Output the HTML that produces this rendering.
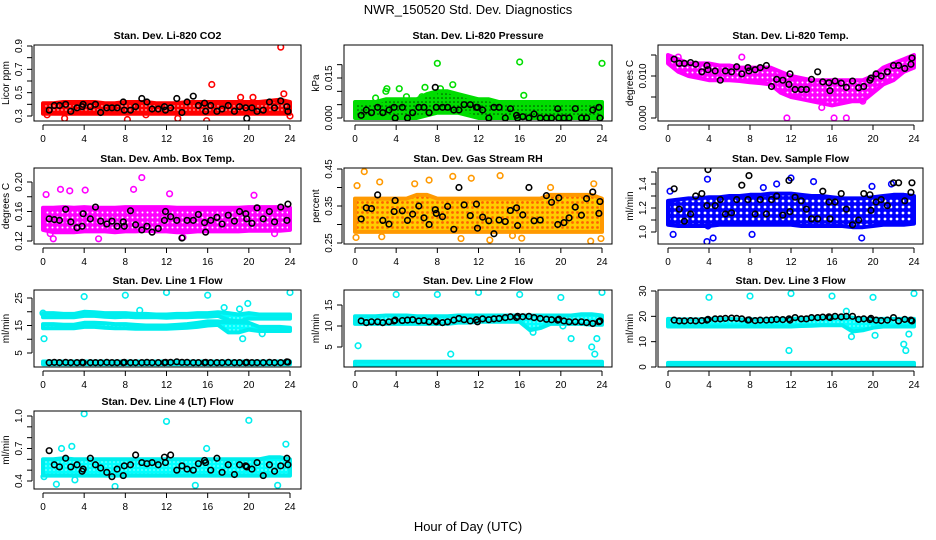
<!DOCTYPE html>
<html><head><meta charset="utf-8"><title>NWR_150520 Std. Dev. Diagnostics</title>
<style>
body{margin:0;background:#fff;}
svg{display:block;font-family:"Liberation Sans",sans-serif;}
</style></head>
<body>
<svg id="chart" width="936" height="540" viewBox="0 0 936 540">
<defs>
<pattern id="pat-red" width="4" height="4" patternUnits="userSpaceOnUse"><rect width="4" height="4" fill="#ff0000"/><circle cx="2" cy="2" r="0.7" fill="#ffffff"/></pattern>
<pattern id="pat-green" width="4" height="4" patternUnits="userSpaceOnUse"><rect width="4" height="4" fill="#00dd00"/><circle cx="2" cy="2" r="0.8" fill="#004400"/></pattern>
<pattern id="pat-magenta" width="5" height="5" patternUnits="userSpaceOnUse"><rect width="5" height="5" fill="#ff00ff"/><circle cx="2.5" cy="2.5" r="1" fill="#ffffff"/></pattern>
<pattern id="pat-orange" width="5" height="5" patternUnits="userSpaceOnUse"><rect width="5" height="5" fill="#ffcc00"/><circle cx="2.5" cy="2.5" r="1.4" fill="#ff6600"/></pattern>
<pattern id="pat-blue" width="6" height="6" patternUnits="userSpaceOnUse"><rect width="6" height="6" fill="#0000ff"/><circle cx="3" cy="3" r="1.4" fill="#ffffff"/></pattern>
<pattern id="pat-cyan" width="4" height="4" patternUnits="userSpaceOnUse"><rect width="4" height="4" fill="#00ffff"/><circle cx="2" cy="2" r="0.6" fill="#ffffff"/></pattern>
</defs>
<text x="468" y="14" text-anchor="middle" font-size="13">NWR_150520  Std. Dev. Diagnostics</text>
<text x="468" y="531" text-anchor="middle" font-size="13">Hour of Day (UTC)</text>
</svg>
<script>
// ---- shared data ----
const HOURS = [0,1,2,3,4,5,6,7,8,9,10,11,12,13,14,15,16,17,18,19,20,21,22,23,24];
const blackTimes = [0.6,1.1,1.6,2.2,2.7,3.3,3.8,3.9,4.6,5.1,5.6,6.2,6.7,7.2,7.8,7.9,8.5,9.0,9.6,10.1,10.6,11.2,11.8,11.9,12.4,13.0,13.5,14.0,14.6,15.1,15.7,15.8,16.3,16.9,17.4,18.0,18.6,19.1,19.7,19.8,20.3,20.8,21.4,22.0,22.5,23.1,23.7,23.8];
const xTickLabels = ["0","4","8","12","16","20","24"];
const xTickValues = [0,4,8,12,16,20,24];

// CO2
const co2Lo = [0.32,0.32,0.32,0.32,0.32,0.32,0.32,0.32,0.32,0.32,0.32,0.32,0.32,0.32,0.32,0.32,0.32,0.32,0.32,0.32,0.32,0.32,0.32,0.32,0.32];
const co2Hi = [0.41,0.41,0.42,0.42,0.42,0.42,0.41,0.41,0.42,0.42,0.42,0.41,0.41,0.41,0.42,0.42,0.42,0.42,0.42,0.42,0.42,0.42,0.43,0.44,0.42];
const co2Black = [0.35,0.39,0.39,0.40,0.34,0.37,0.38,0.40,0.38,0.40,0.33,0.37,0.37,0.37,0.42,0.35,0.35,0.38,0.45,0.42,0.36,0.36,0.38,0.35,0.37,0.45,0.33,0.42,0.47,0.39,0.41,0.34,0.39,0.34,0.36,0.39,0.34,0.38,0.37,0.28,0.37,0.34,0.35,0.42,0.37,0.43,0.38,0.34];
const co2OutT = [23.1,16.4,15.9,2.1,13.1,23.4,8.2,0.4,10.0,19.2,20.4,24.0];
const co2OutV = [0.89,0.57,0.26,0.28,0.28,0.49,0.27,0.31,0.31,0.46,0.46,0.30];

// Pressure
const presLo = [0.000,0.000,0.000,0.000,0.000,0.000,0.000,0.001,0.002,0.002,0.002,0.001,0.000,0.000,0.000,0.000,0.000,0.000,0.000,0.000,0.000,0.000,0.000,0.000,0.000];
const presHi = [0.006,0.006,0.006,0.007,0.007,0.007,0.007,0.009,0.010,0.010,0.009,0.008,0.007,0.007,0.006,0.006,0.006,0.006,0.006,0.006,0.006,0.006,0.006,0.006,0.006];
const presBlack = [0.001,0.003,0.002,0.004,0.002,0.003,0.004,0.000,0.004,0.000,0.002,0.004,0.004,0.002,0.0115,0.004,0.004,0.004,0.003,0.003,0.005,0.005,0.004,0.004,0.003,0.000,0.004,0.004,0.000,0.0035,0.001,0.000,0.0005,0.000,0.0015,0.000,0.000,0.000,0.0035,0.000,0.000,0.000,0.0035,0.000,0.000,0.003,0.004,0.000];
const presOutT = [8.0,16.0,24.0,6.8,9.5,4.3,3.1,16.4,7.9,3.0,8.3,5.0,6.5,2.0];
const presOutV = [0.0205,0.021,0.0205,0.0115,0.0125,0.011,0.011,0.0085,0.0095,0.010,0.011,0.008,0.008,0.0075];

// Li-820 temp
const tempLo = [0.013,0.011,0.010,0.0095,0.009,0.009,0.009,0.0088,0.0085,0.0083,0.008,0.006,0.005,0.0045,0.004,0.0035,0.003,0.0035,0.004,0.004,0.006,0.008,0.009,0.011,0.012];
const tempHi = [0.015,0.014,0.013,0.013,0.013,0.0125,0.0125,0.012,0.012,0.012,0.012,0.011,0.010,0.0095,0.009,0.009,0.009,0.009,0.009,0.009,0.010,0.012,0.013,0.014,0.015];
const tempBlack = [0.0140,0.0130,0.0130,0.0132,0.0128,0.0110,0.0125,0.0115,0.0112,0.0090,0.0112,0.0110,0.0122,0.0105,0.0120,0.0112,0.0115,0.0120,0.0125,0.0075,0.0092,0.0090,0.0080,0.0105,0.0068,0.0068,0.0068,0.0092,0.0110,0.0086,0.0084,0.0065,0.0088,0.0083,0.0073,0.0088,0.0072,0.0075,0.0090,0.0095,0.0105,0.0100,0.0110,0.0125,0.0125,0.0118,0.0128,0.0143];
const tempOutT = [11.6,16.2,17.4,1.0,7.2,15.0,19.0];
const tempOutV = [0.0,0.0,0.0,0.0145,0.0145,0.0025,0.004];

// Amb box temp
const ambLo = [0.135,0.132,0.132,0.132,0.133,0.133,0.133,0.132,0.133,0.133,0.134,0.133,0.133,0.132,0.132,0.133,0.133,0.133,0.133,0.133,0.134,0.134,0.134,0.134,0.135];
const ambHi = [0.165,0.165,0.166,0.165,0.166,0.165,0.165,0.165,0.166,0.166,0.166,0.166,0.166,0.165,0.165,0.165,0.165,0.165,0.165,0.165,0.166,0.166,0.166,0.166,0.165];
const ambBlack = [0.150,0.149,0.148,0.163,0.146,0.138,0.140,0.157,0.150,0.166,0.147,0.143,0.147,0.140,0.146,0.140,0.161,0.142,0.135,0.140,0.132,0.137,0.148,0.160,0.153,0.148,0.124,0.148,0.148,0.156,0.145,0.132,0.148,0.152,0.143,0.155,0.147,0.160,0.157,0.150,0.144,0.165,0.150,0.160,0.146,0.166,0.148,0.170];
const ambOutT = [1.7,2.6,4.1,9.6,23.0,8.8,1.0,5.4,0.7,22.5,13.6,0.3,12.3,20.5];
const ambOutV = [0.190,0.188,0.189,0.206,0.225,0.190,0.123,0.123,0.130,0.130,0.125,0.183,0.184,0.182];

// Gas stream RH
const rhLo = [0.28,0.28,0.28,0.28,0.28,0.28,0.28,0.28,0.28,0.28,0.28,0.28,0.28,0.28,0.28,0.28,0.28,0.28,0.28,0.28,0.28,0.28,0.28,0.28,0.28];
const rhHi = [0.37,0.37,0.37,0.37,0.37,0.37,0.38,0.38,0.37,0.37,0.37,0.37,0.37,0.37,0.37,0.37,0.37,0.37,0.37,0.38,0.38,0.38,0.38,0.38,0.37];
const rhBlack = [0.315,0.345,0.343,0.380,0.311,0.301,0.335,0.365,0.337,0.311,0.328,0.350,0.318,0.300,0.340,0.330,0.321,0.349,0.287,0.400,0.353,0.324,0.355,0.290,0.320,0.310,0.275,0.312,0.308,0.338,0.345,0.297,0.326,0.400,0.310,0.312,0.378,0.360,0.300,0.372,0.305,0.318,0.347,0.325,0.370,0.388,0.330,0.362];
const rhOutT = [0.9,9.5,14.1,11.3,0.2,2.4,23.2,7.2,0.1,13.1,22.9,2.6,10.3,15.3,16.2,23.9,5.8,19.0];
const rhOutV = [0.443,0.430,0.432,0.425,0.405,0.415,0.410,0.420,0.265,0.258,0.255,0.267,0.262,0.270,0.263,0.262,0.410,0.400];

// Sample flow
const sfLo = [1.06,1.05,1.05,1.05,1.05,1.06,1.06,1.06,1.06,1.06,1.06,1.06,1.06,1.05,1.05,1.05,1.05,1.05,1.04,1.04,1.05,1.06,1.06,1.06,1.07];
const sfHi = [1.26,1.27,1.28,1.28,1.29,1.29,1.30,1.30,1.31,1.31,1.32,1.32,1.32,1.31,1.30,1.30,1.29,1.28,1.28,1.28,1.29,1.30,1.31,1.31,1.30];
const sfBlack = [1.36,1.19,1.09,1.15,1.30,1.32,1.22,1.52,1.22,1.27,1.15,1.16,1.27,1.39,1.27,1.47,1.15,1.27,1.15,1.27,1.30,1.14,1.43,1.17,1.29,1.26,1.19,1.11,1.11,1.34,1.25,1.11,1.25,1.32,1.19,1.06,1.10,1.32,1.31,1.18,1.25,1.27,1.22,1.41,1.41,1.26,1.33,1.41];
const sfOutT = [3.8,18.9,0.5,8.2,12.0,14.2,0.2,21.8,19.9,4.4,3.85,3.9,9.3,10.6];
const sfOutV = [0.92,0.95,0.98,0.98,1.45,1.42,1.34,1.40,1.38,0.95,1.44,1.05,1.37,1.40];

// Line 1 flow
const l1ALo = [18.0,18.0,18.0,18.0,18.5,18.5,18.2,18.0,18.2,18.0,18.0,18.0,17.8,18.0,18.0,18.2,18.2,18.5,17.0,16.5,17.5,17.5,17.5,17.5,17.5];
const l1AHi = [19.5,19.5,19.2,19.2,20.0,19.8,19.5,19.5,19.5,19.2,19.2,19.0,19.0,19.2,19.2,19.5,19.5,19.8,19.5,19.0,19.5,19.0,19.0,19.0,19.0];
const l1BLo = [14.0,14.0,14.0,14.0,14.5,14.5,14.2,14.0,14.0,13.8,13.8,13.8,13.8,14.0,14.2,14.5,15.0,15.2,12.5,12.5,13.5,13.0,13.0,13.0,13.0];
const l1BHi = [15.5,15.5,15.3,15.3,16.0,16.0,15.8,15.5,15.5,15.2,15.0,15.0,15.0,15.2,15.5,16.0,16.5,16.5,16.2,16.2,16.0,14.5,14.5,14.5,14.2];
const l1CLo = [0.9,0.9,0.9,0.9,0.9,0.9,0.9,0.9,0.9,0.9,0.9,0.9,0.9,0.9,0.9,0.9,0.9,0.9,0.9,0.9,0.9,0.9,0.9,0.9,0.9];
const l1CHi = [1.9,1.9,1.9,1.9,1.9,1.9,1.9,1.9,1.9,1.9,1.9,1.9,1.9,1.9,1.9,1.9,1.9,1.9,1.9,1.9,1.9,1.9,1.9,1.9,1.9];
const l1Black = [1.5,1.6,1.5,1.6,1.5,1.5,1.6,1.5,1.5,1.5,1.5,1.6,1.5,1.5,1.5,1.6,1.5,1.5,1.5,1.6,1.5,1.5,1.5,1.6,1.6,1.8,1.6,1.6,1.5,1.5,1.5,1.6,1.5,1.5,1.5,1.6,1.5,1.5,1.5,1.6,1.5,1.5,1.5,1.6,1.5,1.5,1.8,1.7];
const l1OutT = [4.0,8.0,12.0,16.0,24.0,0.1,19.4,19.9,19.1,9.4,21.3,17.6,0.0];
const l1OutV = [25.5,26.0,27.0,26.0,27.0,10.2,10.2,23.0,21.0,20.5,12.0,21.5,19.5];

// Line 2 flow
const l2ALo = [10.5,10.5,10.5,10.5,10.5,10.5,10.5,10.5,10.5,10.5,10.8,10.8,11.0,11.0,11.0,11.0,11.0,9.0,9.5,10.5,10.5,10.5,10.5,10.3,10.3];
const l2AHi = [12.3,12.3,12.3,12.5,12.5,12.5,12.3,12.3,12.3,12.3,12.5,12.5,12.5,12.5,12.5,12.5,12.5,12.5,12.5,12.5,12.5,12.5,12.8,12.8,12.5];
const l2BLo = [0.3,0.3,0.3,0.3,0.3,0.3,0.3,0.3,0.3,0.3,0.3,0.3,0.3,0.3,0.3,0.3,0.3,0.3,0.3,0.3,0.3,0.3,0.3,0.3,0.3];
const l2BHi = [1.5,1.5,1.5,1.5,1.5,1.5,1.5,1.5,1.5,1.5,1.5,1.5,1.5,1.5,1.5,1.5,1.5,1.5,1.5,1.5,1.5,1.5,1.5,1.5,1.5];
const l2Black = [11.2,10.8,11.0,11.0,10.8,11.0,11.2,11.4,11.3,11.4,11.5,11.2,11.3,11.0,11.2,11.0,10.8,11.0,11.4,11.8,11.5,11.2,11.5,11.0,11.7,11.5,11.7,11.8,12.0,12.2,12.0,12.3,12.2,12.3,12.0,11.8,11.6,11.5,11.4,11.6,11.2,11.0,11.0,11.0,10.8,10.6,11.0,11.2];
const l2OutT = [4.0,8.0,12.0,16.0,24.0,20.0,0.3,9.3,23.3,23.0,21.0,23.5,17.3,20.2];
const l2OutV = [17.5,17.5,18.0,17.5,18.0,16.8,5.3,3.3,3.3,5.0,7.0,7.0,8.5,10.0];

// Line 3 flow
const l3ALo = [16.0,16.0,16.0,16.0,16.0,16.0,16.0,16.0,16.0,16.0,16.0,16.0,16.0,16.2,16.3,16.5,16.5,16.5,14.0,14.5,15.5,16.0,16.0,16.0,16.0];
const l3AHi = [19.0,18.8,18.8,18.8,19.0,19.0,19.0,18.8,18.8,18.8,19.0,19.0,19.0,19.2,19.5,19.5,19.8,19.8,19.5,19.0,19.0,19.0,19.0,19.0,19.0];
const l3BLo = [0.4,0.4,0.4,0.4,0.4,0.4,0.4,0.4,0.4,0.4,0.4,0.4,0.4,0.4,0.4,0.4,0.4,0.4,0.4,0.4,0.4,0.4,0.4,0.4,0.4];
const l3BHi = [1.6,1.6,1.6,1.6,1.6,1.6,1.6,1.6,1.6,1.6,1.6,1.6,1.6,1.6,1.6,1.6,1.6,1.6,1.6,1.6,1.6,1.6,1.6,1.6,1.6];
const l3Black = [18.5,18.2,18.2,18.3,18.2,18.3,18.5,18.8,19.0,19.0,19.2,19.3,19.2,19.0,18.5,18.6,18.3,18.5,18.5,18.6,18.8,18.7,19.0,18.5,19.5,19.0,19.0,19.5,19.5,19.7,19.8,19.5,20.0,19.8,20.0,20.0,18.8,19.0,18.7,19.2,18.5,18.3,18.5,19.5,18.2,18.8,18.5,18.2];
const l3OutT = [4.0,8.0,12.0,16.0,20.0,24.0,11.8,17.9,20.2,23.0,23.2,23.5,17.4];
const l3OutV = [27.5,28.0,29.0,28.0,27.5,29.0,6.5,12.0,12.5,9.0,6.5,13.0,22.0];

// Line 4 flow
const l4Lo = [0.45,0.45,0.45,0.45,0.45,0.45,0.45,0.45,0.45,0.45,0.45,0.45,0.45,0.45,0.45,0.45,0.45,0.45,0.45,0.45,0.45,0.45,0.45,0.45,0.45];
const l4Hi = [0.60,0.60,0.61,0.60,0.60,0.60,0.60,0.60,0.60,0.60,0.60,0.60,0.60,0.60,0.60,0.60,0.60,0.60,0.60,0.60,0.60,0.60,0.62,0.62,0.60];
const l4Black = [0.68,0.55,0.53,0.61,0.53,0.55,0.49,0.51,0.61,0.55,0.52,0.48,0.44,0.51,0.45,0.54,0.55,0.64,0.57,0.56,0.57,0.55,0.62,0.57,0.64,0.50,0.54,0.51,0.50,0.56,0.59,0.57,0.50,0.61,0.48,0.55,0.46,0.55,0.54,0.53,0.51,0.57,0.45,0.55,0.49,0.54,0.61,0.55];
const l4OutT = [4.0,12.0,20.0,2.8,23.6,1.8,7.0,14.8,22.8,1.3,3.1,0.1,15.9];
const l4OutV = [1.02,0.95,0.96,0.72,0.74,0.70,0.35,0.36,0.36,0.37,0.41,0.44,0.70];

// ---- y tick arrays ----
const co2Ticks=[0.3,0.4,0.5,0.6,0.7,0.8,0.9], co2Labels=["0.3","","0.5","","0.7","","0.9"];
const presTicks=[0,0.005,0.01,0.015,0.02], presLabels=["0.000","","","0.015",""];
const tempTicks=[0,0.005,0.01,0.015], tempLabels=["0.000","","0.010",""];
const ambTicks=[0.12,0.14,0.16,0.18,0.20], ambLabels=["0.12","","0.16","","0.20"];
const rhTicks=[0.25,0.30,0.35,0.40,0.45], rhLabels=["0.25","","0.35","","0.45"];
const sfTicks=[1.0,1.1,1.2,1.3,1.4,1.5], sfLabels=["1.0","","1.2","","1.4",""];
const l1Ticks=[5,10,15,20,25], l1Labels=["5","","15","","25"];
const l2Ticks=[5,10,15], l2Labels=["5","10","15"];
const l3Ticks=[0,10,20,30], l3Labels=["0","10","20","30"];
const l4Ticks=[0.4,0.5,0.6,0.7,0.8,0.9,1.0], l4Labels=["0.4","","","0.7","","","1.0"];

const NS="http://www.w3.org/2000/svg";
const svg=document.getElementById('chart');
function mk(tag,attrs,parent){const e=document.createElementNS(NS,tag);for(const k in attrs)e.setAttribute(k,attrs[k]);(parent||svg).appendChild(e);return e;}

const COLS=[{bx1:34,bx2:301,x0:43,x24:290},{bx1:344,bx2:612,x0:355,x24:602},{bx1:658,bx2:923,x0:668,x24:914}];
const ROWS=[{by1:45,by2:121},{by1:168,by2:244},{by1:290,by2:367},{by1:411,by2:489}];

function panel(o){
  const c=COLS[o.col], r=ROWS[o.row];
  const g=mk('g',{});
  
  
  const xs=t=>c.x0+(c.x24-c.x0)*t/24;
  const ys=v=>o.p1+(o.p2-o.p1)*(v-o.v1)/(o.v2-o.v1);
  const clipId='clip-'+o.name;
  const cp=mk('clipPath',{id:clipId},g);
  mk('rect',{x:c.bx1,y:r.by1,width:c.bx2-c.bx1,height:r.by2-r.by1},cp);
  const plot=mk('g',{'clip-path':'url(#'+clipId+')'},g);
  o.bands.forEach((b,bi)=>{
    let d='';
    HOURS.forEach((h,i)=>{d+=(i?'L':'M')+xs(h).toFixed(1)+','+ys(b[1][i]).toFixed(1);});
    for(let i=HOURS.length-1;i>=0;i--) d+='L'+xs(HOURS[i]).toFixed(1)+','+ys(b[0][i]).toFixed(1);
    d+='Z';
    const p=mk('path',{d:d,fill:'url(#'+o.pat+')',stroke:o.color,'stroke-width':4,'stroke-linejoin':'round'},plot);
    
    
  });
  o.outT.forEach((t,i)=>{
    const e=mk('circle',{cx:xs(t),cy:ys(o.outV[i]),r:2.8,fill:'none',stroke:o.color,'stroke-width':1.6},plot);
    
    
  });
  blackTimes.forEach((t,i)=>{
    const e=mk('circle',{cx:xs(t),cy:ys(o.black[i]),r:2.8,fill:'none',stroke:'#000','stroke-width':1.6},plot);
    
    
  });
  const bx=mk('rect',{x:c.bx1,y:r.by1,width:c.bx2-c.bx1,height:r.by2-r.by1,fill:'none',stroke:'#000','stroke-width':1},g);
  
  
  const ti=mk('text',{x:(c.bx1+c.bx2)/2,y:r.by1-6,'text-anchor':'middle','font-size':10.5,'font-weight':'bold'},g);
  ti.textContent=o.title;
  
  
  const xa=mk('g',{},g);
  
  
  mk('line',{x1:xs(0),x2:xs(24),y1:r.by2+4,y2:r.by2+4,stroke:'#000','stroke-width':1},xa);
  xTickValues.forEach((v,i)=>{
    mk('line',{x1:xs(v),x2:xs(v),y1:r.by2+4,y2:r.by2+9,stroke:'#000','stroke-width':1},xa);
    const tl=mk('text',{x:xs(v),y:r.by2+21,'text-anchor':'middle','font-size':10},xa);
    tl.textContent=xTickLabels[i];
  });
  const ya=mk('g',{},g);
  
  
  const yv=o.ticks;
  mk('line',{x1:c.bx1-2,x2:c.bx1-2,y1:ys(yv[0]),y2:ys(yv[yv.length-1]),stroke:'#000','stroke-width':1},ya);
  yv.forEach((v,i)=>{
    mk('line',{x1:c.bx1-7,x2:c.bx1-2,y1:ys(v),y2:ys(v),stroke:'#000','stroke-width':1},ya);
    if(o.labels[i]){
      const lx=c.bx1-12, ly=ys(v);
      const tl=mk('text',{x:lx,y:ly,'text-anchor':'middle','font-size':10,transform:'rotate(-90 '+lx+' '+ly+')'},ya);
      tl.textContent=o.labels[i];
    }
  });
  const yl=c.bx1-25, ym=(r.by1+r.by2)/2;
  const yt=mk('text',{x:yl,y:ym,'text-anchor':'middle','font-size':10,transform:'rotate(-90 '+yl+' '+ym+')'},g);
  yt.textContent=o.ylab;
  
  
}

panel({name:'panel-co2',col:0,row:0,title:'Stan. Dev. Li-820 CO2',ylab:'Licor ppm',v1:0.3,p1:116,v2:0.9,p2:46,ticks:co2Ticks,labels:co2Labels,color:'#ff0000',pat:'pat-red',bands:[[co2Lo,co2Hi]],outT:co2OutT,outV:co2OutV,black:co2Black});
panel({name:'panel-pressure',col:1,row:0,title:'Stan. Dev. Li-820 Pressure',ylab:'kPa',v1:0,p1:118,v2:0.015,p2:78,ticks:presTicks,labels:presLabels,color:'#00dd00',pat:'pat-green',bands:[[presLo,presHi]],outT:presOutT,outV:presOutV,black:presBlack});
panel({name:'panel-li820-temp',col:2,row:0,title:'Stan. Dev. Li-820 Temp.',ylab:'degrees C',v1:0,p1:118,v2:0.010,p2:76,ticks:tempTicks,labels:tempLabels,color:'#ff00ff',pat:'pat-magenta',bands:[[tempLo,tempHi]],outT:tempOutT,outV:tempOutV,black:tempBlack});
panel({name:'panel-amb-box-temp',col:0,row:1,title:'Stan. Dev. Amb. Box Temp.',ylab:'degrees C',v1:0.12,p1:241,v2:0.20,p2:182,ticks:ambTicks,labels:ambLabels,color:'#ff00ff',pat:'pat-magenta',bands:[[ambLo,ambHi]],outT:ambOutT,outV:ambOutV,black:ambBlack});
panel({name:'panel-gas-stream-rh',col:1,row:1,title:'Stan. Dev. Gas Stream RH',ylab:'percent',v1:0.25,p1:243,v2:0.45,p2:169,ticks:rhTicks,labels:rhLabels,color:'#ff9900',pat:'pat-orange',bands:[[rhLo,rhHi]],outT:rhOutT,outV:rhOutV,black:rhBlack});
panel({name:'panel-sample-flow',col:2,row:1,title:'Stan. Dev. Sample Flow',ylab:'ml/min',v1:1.0,p1:232,v2:1.4,p2:184,ticks:sfTicks,labels:sfLabels,color:'#0000ff',pat:'pat-blue',bands:[[sfLo,sfHi]],outT:sfOutT,outV:sfOutV,black:sfBlack});
panel({name:'panel-line1-flow',col:0,row:2,title:'Stan. Dev. Line 1 Flow',ylab:'ml/min',v1:5,p1:353,v2:25,p2:298,ticks:l1Ticks,labels:l1Labels,color:'#00eeee',pat:'pat-cyan',bands:[[l1ALo,l1AHi],[l1BLo,l1BHi],[l1CLo,l1CHi]],outT:l1OutT,outV:l1OutV,black:l1Black});
panel({name:'panel-line2-flow',col:1,row:2,title:'Stan. Dev. Line 2 Flow',ylab:'ml/min',v1:5,p1:347,v2:15,p2:305,ticks:l2Ticks,labels:l2Labels,color:'#00eeee',pat:'pat-cyan',bands:[[l2ALo,l2AHi],[l2BLo,l2BHi]],outT:l2OutT,outV:l2OutV,black:l2Black});
panel({name:'panel-line3-flow',col:2,row:2,title:'Stan. Dev. Line 3 Flow',ylab:'ml/min',v1:0,p1:367,v2:30,p2:291,ticks:l3Ticks,labels:l3Labels,color:'#00eeee',pat:'pat-cyan',bands:[[l3ALo,l3AHi],[l3BLo,l3BHi]],outT:l3OutT,outV:l3OutV,black:l3Black});
panel({name:'panel-line4-flow',col:0,row:3,title:'Stan. Dev. Line 4 (LT) Flow',ylab:'ml/min',v1:0.4,p1:481,v2:1.0,p2:416,ticks:l4Ticks,labels:l4Labels,color:'#00eeee',pat:'pat-cyan',bands:[[l4Lo,l4Hi]],outT:l4OutT,outV:l4OutV,black:l4Black});
</script>
</body></html>
